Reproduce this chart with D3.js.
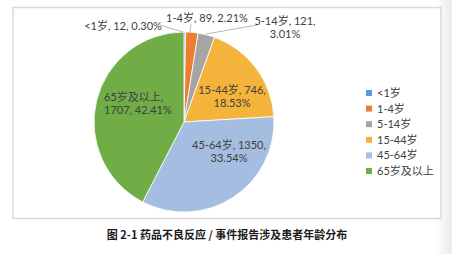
<!DOCTYPE html>
<html>
<head>
<meta charset="utf-8">
<script src="https://cdn.jsdelivr.net/npm/d3@7"></script>
<style>
    body { margin: 0; background: #fff; }
    svg { display: block; }
    .lbl { font-family: Lato, "Noto Sans CJK SC", sans-serif; font-size: 11px; fill: #404040; }
    .title { font-family: "Noto Sans CJK SC", sans-serif; font-size: 11px; font-weight: bold; fill: #1a1a1a; }
</style>
</head>
<body>
<div id="chart"></div>
<script>
'use strict';

// Chart data.
var categories = ['<1岁', '1-4岁', '5-14岁', '15-44岁', '45-64岁', '65岁及以上'];
var counts     = [12, 89, 121, 746, 1350, 1707];
var percents   = ['0.30%', '2.21%', '3.01%', '18.53%', '33.54%', '42.41%'];
var colors     = ['#5b9bd5', '#ed7d31', '#a5a5a5', '#f4b33a', '#a5bde0', '#70ad47'];
var titleText  = '图 2-1 药品不良反应 / 事件报告涉及患者年龄分布';

var width  = 452,
    height = 254,
    cx     = 184,
    cy     = 122,
    radius = 90;

var data = categories.map(function (c, i) {
    return {name: c, count: counts[i], pct: percents[i], color: colors[i]};
});

var svg = d3.select('#chart').append('svg')
    .attr('width', width)
    .attr('height', height);

// Slight shading on the right edge of the scan.
var grad = svg.append('defs').append('linearGradient').attr('id', 'edge');
grad.append('stop').attr('offset', '0').attr('stop-color', '#fff');
grad.append('stop').attr('offset', '1').attr('stop-color', '#e9e9e9');
svg.append('rect').attr('x', 436).attr('y', 0).attr('width', 16).attr('height', height).attr('fill', 'url(#edge)');

// Chart frame.
svg.append('rect')
    .attr('x', 13).attr('y', 7.5)
    .attr('width', 428).attr('height', 211)
    .attr('fill', '#fff')
    .attr('stroke', '#d9d9d9')
    .attr('stroke-width', 1.5);

var pie = d3.pie()
    .sort(null)
    .value(function (d) { return d.count; });

var arc = d3.arc().innerRadius(0).outerRadius(radius);
var arcs = pie(data);

var g = svg.append('g').attr('transform', 'translate(' + cx + ',' + cy + ')');

g.selectAll('.slice')
    .data(arcs)
    .enter().append('path')
    .attr('class', 'slice')
    .attr('d', arc)
    .attr('fill', function (d) { return d.data.color; })
    .attr('stroke', '#fff')
    .attr('stroke-width', 0.8);

// Label placement (text centre of first line, relative to the pie centre).
var labelPos = [
    {lines: ['<1岁, 12, 0.30%'], x: -61, y: -96, anchor: 'middle', leader: [[-24, -97], [-1, -90]]},
    {lines: ['1-4岁, 89, 2.21%'], x: 23, y: -104, anchor: 'middle', leader: [[7, -98], [6, -89]]},
    {lines: ['5-14岁, 121,', '3.01%'], x: 101, y: -101, anchor: 'middle', leader: [[73, -97], [22, -88]]},
    {lines: ['15-44岁, 746,', '18.53%'], x: 48, y: -32, anchor: 'middle'},
    {lines: ['45-64岁, 1350,', '33.54%'], x: 45, y: 23, anchor: 'middle'},
    {lines: ['65岁及以上,', '1707, 42.41%'], x: -80, y: -25, anchor: 'start'}
];

arcs.forEach(function (d, i) {
    var p = labelPos[i];
    if (p.leader) {
        g.append('polyline')
            .attr('points', p.leader.map(function (q) { return q.join(','); }).join(' '))
            .attr('fill', 'none')
            .attr('stroke', '#a6a6a6')
            .attr('stroke-width', 0.8);
    }
    var t = g.append('text')
        .attr('class', 'lbl')
        .attr('text-anchor', p.anchor)
        .attr('x', p.x)
        .attr('y', p.y + 4);
    p.lines.forEach(function (line, j) {
        t.append('tspan')
            .attr('x', p.x)
            .attr('dy', j === 0 ? 0 : 12.5)
            .text(line);
    });
});

// Legend.
var legend = svg.append('g').attr('transform', 'translate(366, 93)');
var rows = legend.selectAll('.row')
    .data(data)
    .enter().append('g')
    .attr('class', 'row')
    .attr('transform', function (d, i) { return 'translate(0,' + (i * 15.6) + ')'; });

rows.append('rect')
    .attr('x', 0).attr('y', -3)
    .attr('width', 6).attr('height', 6)
    .attr('fill', function (d) { return d.color; });

rows.append('text')
    .attr('class', 'lbl')
    .attr('x', 11)
    .attr('y', 4)
    .text(function (d) { return d.name; });

// Caption under the frame.
svg.append('text')
    .attr('class', 'title')
    .attr('x', 227)
    .attr('y', 239)
    .attr('text-anchor', 'middle')
    .text(titleText);
</script>
</body>
</html>
